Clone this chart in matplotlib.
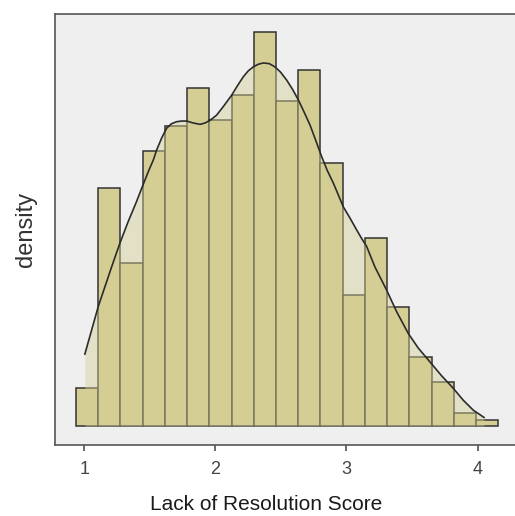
import numpy as np
import matplotlib
matplotlib.use("Agg")
import matplotlib.pyplot as plt

plt.rcParams['font.family'] = ['Liberation Sans', 'DejaVu Sans']

# histogram counts (19 equal bins)
bin_start = 0.937
bin_width = 0.1695
counts = np.array([6, 38, 26, 44, 48, 54, 49, 53, 63, 52, 57, 42, 21, 30, 19, 11, 7, 2, 1])

# density curve
kde_x = [1.005, 1.056, 1.107, 1.158, 1.209, 1.272, 1.336, 1.399, 1.438, 1.488,
         1.527, 1.552, 1.590, 1.628, 1.666, 1.705, 1.743, 1.781, 1.832, 1.883,
         1.921, 1.959, 2.010, 2.061, 2.124, 2.167, 2.213, 2.251, 2.289, 2.327,
         2.366, 2.411, 2.455, 2.498, 2.544, 2.589, 2.633, 2.676, 2.722, 2.767,
         2.811, 2.854, 2.900, 2.938, 2.976, 3.027, 3.078, 3.116, 3.154, 3.217,
         3.306, 3.383, 3.472, 3.548, 3.637, 3.726, 3.815, 3.891, 3.967, 4.049]
kde_y = [0.109, 0.145, 0.181, 0.211, 0.241, 0.277, 0.310, 0.340, 0.360, 0.385,
         0.403, 0.418, 0.436, 0.451, 0.458, 0.461, 0.462, 0.462, 0.459, 0.457,
         0.459, 0.463, 0.471, 0.484, 0.501, 0.515, 0.529, 0.538, 0.544, 0.548,
         0.550, 0.549, 0.544, 0.536, 0.524, 0.510, 0.494, 0.476, 0.456, 0.432,
         0.408, 0.387, 0.368, 0.350, 0.332, 0.315, 0.297, 0.284, 0.272, 0.241,
         0.206, 0.173, 0.140, 0.118, 0.097, 0.076, 0.057, 0.039, 0.024, 0.013]

xticks = [1, 2, 3, 4]

BG = '#efefef'
BAR = '#d4ce95'

edges = bin_start + bin_width * np.arange(len(counts) + 1)
density = counts / (counts.sum() * bin_width)

fig = plt.figure(figsize=(5.15, 5.16), dpi=100)
ax = fig.add_axes([0.106, 0.1376, 0.914, 0.8353])
ax.set_facecolor(BG)

ax.bar(edges[:-1], density, width=bin_width, align='edge', color=BAR,
       edgecolor='#333333', linewidth=1.1, zorder=2)
ax.fill_between(kde_x, 0, kde_y, color=BAR, alpha=0.45, linewidth=0, zorder=3)
ax.plot(kde_x, kde_y, color='#2b2b2b', linewidth=1.2, zorder=4,
        solid_joinstyle='round')

ax.set_xlim(0.774, 4.364)
ax.set_ylim(-0.0288, 0.6242)
ax.set_xticks(xticks)
ax.set_xticklabels([str(t) for t in xticks])
ax.set_yticks([])
ax.tick_params(axis='x', length=4.5, width=1.1, color='#444444', pad=7,
               labelsize=13, labelcolor='#444444')
for s in ax.spines.values():
    s.set_color('#555555')
    s.set_linewidth(1.2)

ax.set_xlabel('Lack of Resolution Score', fontsize=15, color='#1a1a1a')
ax.xaxis.set_label_coords(0.45, -0.116)
ax.set_ylabel('density', fontsize=17, color='#333333', labelpad=13)

fig.savefig('out.png', dpi=100)
